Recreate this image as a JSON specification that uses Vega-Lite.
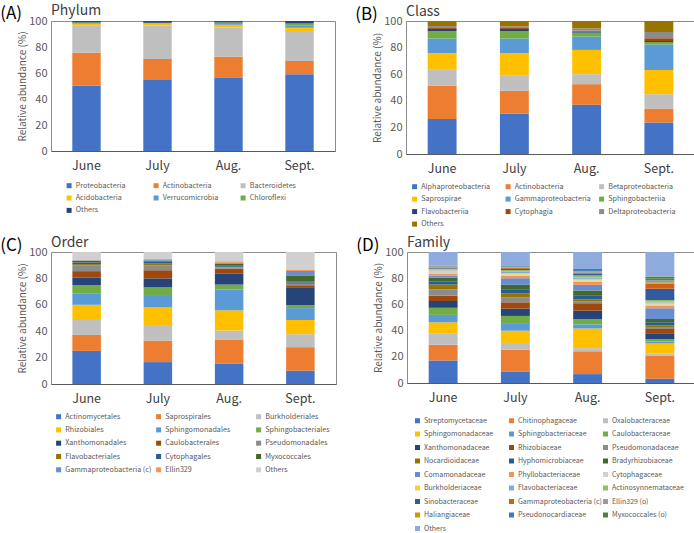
{
  "$schema": "https://vega.github.io/schema/vega-lite/v6.json",
  "padding": {"left": 0, "top": 3, "right": 0, "bottom": 0},
  "datasets": {
    "A": [
      {"m":"June","t":"Proteobacteria","v":50.3},{"m":"June","t":"Actinobacteria","v":25.3},{"m":"June","t":"Bacteroidetes","v":20.8},{"m":"June","t":"Acidobacteria","v":1.5},{"m":"June","t":"Verrucomicrobia","v":0.5},{"m":"June","t":"Chloroflexi","v":0.5},{"m":"June","t":"Others","v":1.1},
      {"m":"July","t":"Proteobacteria","v":54.6},{"m":"July","t":"Actinobacteria","v":16.2},{"m":"July","t":"Bacteroidetes","v":25.6},{"m":"July","t":"Acidobacteria","v":1.6},{"m":"July","t":"Verrucomicrobia","v":0.4},{"m":"July","t":"Chloroflexi","v":0.2},{"m":"July","t":"Others","v":1.4},
      {"m":"Aug.","t":"Proteobacteria","v":56.2},{"m":"Aug.","t":"Actinobacteria","v":16.4},{"m":"Aug.","t":"Bacteroidetes","v":22.5},{"m":"Aug.","t":"Acidobacteria","v":2.0},{"m":"Aug.","t":"Verrucomicrobia","v":0.6},{"m":"Aug.","t":"Chloroflexi","v":1.2},{"m":"Aug.","t":"Others","v":1.1},
      {"m":"Sept.","t":"Proteobacteria","v":59.0},{"m":"Sept.","t":"Actinobacteria","v":10.2},{"m":"Sept.","t":"Bacteroidetes","v":23.1},{"m":"Sept.","t":"Acidobacteria","v":2.6},{"m":"Sept.","t":"Verrucomicrobia","v":1.4},{"m":"Sept.","t":"Chloroflexi","v":1.7},{"m":"Sept.","t":"Others","v":2.0}
    ],
    "B": [
      {"m":"June","t":"Alphaproteobacteria","v":26.3},{"m":"June","t":"Actinobacteria","v":25.0},{"m":"June","t":"Betaproteobacteria","v":12.5},{"m":"June","t":"Saprospirae","v":12.0},{"m":"June","t":"Gammaproteobacteria","v":11.0},{"m":"June","t":"Sphingobacteriia","v":5.7},{"m":"June","t":"Flavobacteriia","v":1.5},{"m":"June","t":"Cytophagia","v":0.7},{"m":"June","t":"Deltaproteobacteria","v":1.5},{"m":"June","t":"Others","v":3.8},
      {"m":"July","t":"Alphaproteobacteria","v":30.5},{"m":"July","t":"Actinobacteria","v":17.0},{"m":"July","t":"Betaproteobacteria","v":11.3},{"m":"July","t":"Saprospirae","v":17.0},{"m":"July","t":"Gammaproteobacteria","v":11.0},{"m":"July","t":"Sphingobacteriia","v":5.7},{"m":"July","t":"Flavobacteriia","v":1.5},{"m":"July","t":"Cytophagia","v":0.7},{"m":"July","t":"Deltaproteobacteria","v":1.3},{"m":"July","t":"Others","v":4.0},
      {"m":"Aug.","t":"Alphaproteobacteria","v":37.0},{"m":"Aug.","t":"Actinobacteria","v":15.5},{"m":"Aug.","t":"Betaproteobacteria","v":7.5},{"m":"Aug.","t":"Saprospirae","v":18.25},{"m":"Aug.","t":"Gammaproteobacteria","v":10.0},{"m":"Aug.","t":"Sphingobacteriia","v":3.0},{"m":"Aug.","t":"Flavobacteriia","v":0.8},{"m":"Aug.","t":"Cytophagia","v":0.7},{"m":"Aug.","t":"Deltaproteobacteria","v":1.75},{"m":"Aug.","t":"Others","v":5.5},
      {"m":"Sept.","t":"Alphaproteobacteria","v":23.75},{"m":"Sept.","t":"Actinobacteria","v":10.5},{"m":"Sept.","t":"Betaproteobacteria","v":10.75},{"m":"Sept.","t":"Saprospirae","v":18.25},{"m":"Sept.","t":"Gammaproteobacteria","v":19.0},{"m":"Sept.","t":"Sphingobacteriia","v":2.0},{"m":"Sept.","t":"Flavobacteriia","v":0.75},{"m":"Sept.","t":"Cytophagia","v":2.0},{"m":"Sept.","t":"Deltaproteobacteria","v":4.75},{"m":"Sept.","t":"Others","v":8.25}
    ],
    "C": [
      {"m":"June","t":"Actinomycetales","v":25.1},{"m":"June","t":"Saprospirales","v":12.1},{"m":"June","t":"Burkholderiales","v":11.3},{"m":"June","t":"Rhizobiales","v":11.5},{"m":"June","t":"Sphingomonadales","v":8.75},{"m":"June","t":"Sphingobacteriales","v":6.25},{"m":"June","t":"Xanthomonadales","v":5.5},{"m":"June","t":"Caulobacterales","v":5.0},{"m":"June","t":"Pseudomonadales","v":4.5},{"m":"June","t":"Flavobacteriales","v":0.8},{"m":"June","t":"Cytophagales","v":1.2},{"m":"June","t":"Myxococcales","v":1.2},{"m":"June","t":"Gammaproteobacteria (c)","v":0.5},{"m":"June","t":"Ellin329","v":0.3},{"m":"June","t":"Others","v":6.0},
      {"m":"July","t":"Actinomycetales","v":16.6},{"m":"July","t":"Saprospirales","v":16.3},{"m":"July","t":"Burkholderiales","v":11.1},{"m":"July","t":"Rhizobiales","v":14.0},{"m":"July","t":"Sphingomonadales","v":9.4},{"m":"July","t":"Sphingobacteriales","v":5.8},{"m":"July","t":"Xanthomonadales","v":6.8},{"m":"July","t":"Caulobacterales","v":6.2},{"m":"July","t":"Pseudomonadales","v":3.8},{"m":"July","t":"Flavobacteriales","v":1.2},{"m":"July","t":"Cytophagales","v":1.5},{"m":"July","t":"Myxococcales","v":0.8},{"m":"July","t":"Gammaproteobacteria (c)","v":0.5},{"m":"July","t":"Ellin329","v":0.8},{"m":"July","t":"Others","v":5.2},
      {"m":"Aug.","t":"Actinomycetales","v":15.6},{"m":"Aug.","t":"Saprospirales","v":17.8},{"m":"Aug.","t":"Burkholderiales","v":7.1},{"m":"Aug.","t":"Rhizobiales","v":15.3},{"m":"Aug.","t":"Sphingomonadales","v":15.7},{"m":"Aug.","t":"Sphingobacteriales","v":3.8},{"m":"Aug.","t":"Xanthomonadales","v":8.2},{"m":"Aug.","t":"Caulobacterales","v":4.0},{"m":"Aug.","t":"Pseudomonadales","v":0.8},{"m":"Aug.","t":"Flavobacteriales","v":0.5},{"m":"Aug.","t":"Cytophagales","v":1.2},{"m":"Aug.","t":"Myxococcales","v":1.2},{"m":"Aug.","t":"Gammaproteobacteria (c)","v":0.6},{"m":"Aug.","t":"Ellin329","v":1.2},{"m":"Aug.","t":"Others","v":7.0},
      {"m":"Sept.","t":"Actinomycetales","v":10.1},{"m":"Sept.","t":"Saprospirales","v":17.8},{"m":"Sept.","t":"Burkholderiales","v":9.8},{"m":"Sept.","t":"Rhizobiales","v":10.8},{"m":"Sept.","t":"Sphingomonadales","v":9.0},{"m":"Sept.","t":"Sphingobacteriales","v":2.3},{"m":"Sept.","t":"Xanthomonadales","v":13.0},{"m":"Sept.","t":"Caulobacterales","v":2.0},{"m":"Sept.","t":"Pseudomonadales","v":1.0},{"m":"Sept.","t":"Flavobacteriales","v":1.0},{"m":"Sept.","t":"Cytophagales","v":1.0},{"m":"Sept.","t":"Myxococcales","v":4.5},{"m":"Sept.","t":"Gammaproteobacteria (c)","v":3.3},{"m":"Sept.","t":"Ellin329","v":1.2},{"m":"Sept.","t":"Others","v":13.2}
    ],
    "D": [
      {"m":"June","t":"Streptomycetaceae","v":17.2},{"m":"June","t":"Chitinophagaceae","v":12.0},{"m":"June","t":"Oxalobacteraceae","v":8.8},{"m":"June","t":"Sphingomonadaceae","v":8.3},{"m":"June","t":"Sphingobacteriaceae","v":5.7},{"m":"June","t":"Caulobacteraceae","v":5.4},{"m":"June","t":"Xanthomonadaceae","v":5.2},{"m":"June","t":"Rhizobiaceae","v":4.1},{"m":"June","t":"Pseudomonadaceae","v":4.8},{"m":"June","t":"Nocardioidaceae","v":3.7},{"m":"June","t":"Hyphomicrobiaceae","v":2.4},{"m":"June","t":"Bradyrhizobiaceae","v":2.9},{"m":"June","t":"Comamonadaceae","v":1.6},{"m":"June","t":"Phyllobacteriaceae","v":1.5},{"m":"June","t":"Cytophagaceae","v":1.2},{"m":"June","t":"Burkholderiaceae","v":1.1},{"m":"June","t":"Flavobacteriaceae","v":0.8},{"m":"June","t":"Actinosynnemataceae","v":0.5},{"m":"June","t":"Sinobacteraceae","v":0.5},{"m":"June","t":"Gammaproteobacteria (c)","v":0.5},{"m":"June","t":"Ellin329 (o)","v":0.3},{"m":"June","t":"Haliangiaceae","v":0.5},{"m":"June","t":"Pseudonocardiaceae","v":0.3},{"m":"June","t":"Myxococcales (o)","v":0.2},{"m":"June","t":"Others","v":10.5},
      {"m":"July","t":"Streptomycetaceae","v":8.5},{"m":"July","t":"Chitinophagaceae","v":17.0},{"m":"July","t":"Oxalobacteraceae","v":5.1},{"m":"July","t":"Sphingomonadaceae","v":9.3},{"m":"July","t":"Sphingobacteriaceae","v":5.8},{"m":"July","t":"Caulobacteraceae","v":5.5},{"m":"July","t":"Xanthomonadaceae","v":5.6},{"m":"July","t":"Rhizobiaceae","v":4.8},{"m":"July","t":"Pseudomonadaceae","v":3.6},{"m":"July","t":"Nocardioidaceae","v":3.3},{"m":"July","t":"Hyphomicrobiaceae","v":3.1},{"m":"July","t":"Bradyrhizobiaceae","v":3.3},{"m":"July","t":"Comamonadaceae","v":5.1},{"m":"July","t":"Phyllobacteriaceae","v":1.8},{"m":"July","t":"Cytophagaceae","v":1.0},{"m":"July","t":"Burkholderiaceae","v":1.0},{"m":"July","t":"Flavobacteriaceae","v":1.2},{"m":"July","t":"Actinosynnemataceae","v":1.2},{"m":"July","t":"Sinobacteraceae","v":0.8},{"m":"July","t":"Gammaproteobacteria (c)","v":0.7},{"m":"July","t":"Ellin329 (o)","v":0.5},{"m":"July","t":"Haliangiaceae","v":0.5},{"m":"July","t":"Pseudonocardiaceae","v":0.5},{"m":"July","t":"Myxococcales (o)","v":0.5},{"m":"July","t":"Others","v":10.3},
      {"m":"Aug.","t":"Streptomycetaceae","v":6.8},{"m":"Aug.","t":"Chitinophagaceae","v":17.4},{"m":"Aug.","t":"Oxalobacteraceae","v":2.4},{"m":"Aug.","t":"Sphingomonadaceae","v":15.0},{"m":"Aug.","t":"Sphingobacteriaceae","v":3.2},{"m":"Aug.","t":"Caulobacteraceae","v":4.0},{"m":"Aug.","t":"Xanthomonadaceae","v":6.4},{"m":"Aug.","t":"Rhizobiaceae","v":5.7},{"m":"Aug.","t":"Pseudomonadaceae","v":1.2},{"m":"Aug.","t":"Nocardioidaceae","v":1.8},{"m":"Aug.","t":"Hyphomicrobiaceae","v":3.1},{"m":"Aug.","t":"Bradyrhizobiaceae","v":3.6},{"m":"Aug.","t":"Comamonadaceae","v":4.3},{"m":"Aug.","t":"Phyllobacteriaceae","v":2.3},{"m":"Aug.","t":"Cytophagaceae","v":1.1},{"m":"Aug.","t":"Burkholderiaceae","v":1.2},{"m":"Aug.","t":"Flavobacteriaceae","v":1.1},{"m":"Aug.","t":"Actinosynnemataceae","v":1.5},{"m":"Aug.","t":"Sinobacteraceae","v":1.3},{"m":"Aug.","t":"Gammaproteobacteria (c)","v":0.7},{"m":"Aug.","t":"Ellin329 (o)","v":0.6},{"m":"Aug.","t":"Haliangiaceae","v":0.5},{"m":"Aug.","t":"Pseudonocardiaceae","v":1.0},{"m":"Aug.","t":"Myxococcales (o)","v":0.8},{"m":"Aug.","t":"Others","v":13.0},
      {"m":"Sept.","t":"Streptomycetaceae","v":3.2},{"m":"Sept.","t":"Chitinophagaceae","v":17.7},{"m":"Sept.","t":"Oxalobacteraceae","v":1.6},{"m":"Sept.","t":"Sphingomonadaceae","v":7.6},{"m":"Sept.","t":"Sphingobacteriaceae","v":1.5},{"m":"Sept.","t":"Caulobacteraceae","v":2.0},{"m":"Sept.","t":"Xanthomonadaceae","v":4.3},{"m":"Sept.","t":"Rhizobiaceae","v":3.3},{"m":"Sept.","t":"Pseudomonadaceae","v":1.5},{"m":"Sept.","t":"Nocardioidaceae","v":1.3},{"m":"Sept.","t":"Hyphomicrobiaceae","v":2.3},{"m":"Sept.","t":"Bradyrhizobiaceae","v":2.5},{"m":"Sept.","t":"Comamonadaceae","v":8.2},{"m":"Sept.","t":"Phyllobacteriaceae","v":1.8},{"m":"Sept.","t":"Cytophagaceae","v":1.3},{"m":"Sept.","t":"Burkholderiaceae","v":1.3},{"m":"Sept.","t":"Flavobacteriaceae","v":0.7},{"m":"Sept.","t":"Actinosynnemataceae","v":1.3},{"m":"Sept.","t":"Sinobacteraceae","v":8.5},{"m":"Sept.","t":"Gammaproteobacteria (c)","v":3.8},{"m":"Sept.","t":"Ellin329 (o)","v":1.3},{"m":"Sept.","t":"Haliangiaceae","v":1.3},{"m":"Sept.","t":"Pseudonocardiaceae","v":1.2},{"m":"Sept.","t":"Myxococcales (o)","v":1.8},{"m":"Sept.","t":"Others","v":18.7}
    ]
  },
  "config": {
    "font": "Noto Sans CJK JP",
    "view": {"stroke": "#8c8c8c", "strokeWidth": 1},
    "bar": {"strokeWidth": 0},
    "concat": {"spacing": 0},
    "axisX": {"ticks": false, "grid": false, "domainColor": "#595959", "labelFontSize": 12.5, "labelColor": "#404040", "labelPadding": 8, "labelAngle": 0, "title": null},
    "axisY": {"ticks": false, "grid": false, "domain": false, "labelFontSize": 11, "labelColor": "#595959", "labelPadding": 4, "titleFontSize": 10, "titleColor": "#595959", "titleFontWeight": "normal", "titlePadding": 1},
    "legend": {"orient": "none", "columns": 3, "direction": "horizontal", "title": null, "symbolType": "square", "symbolSize": 25, "symbolStrokeWidth": 0, "labelFontSize": 7.2, "labelColor": "#595959", "labelOffset": 3, "gridAlign": "all", "padding": 0},
    "title": {"fontWeight": "normal"}
  },
  "spacing": 7,
  "resolve": {"scale": {"color": "independent"}},
  "vconcat": [
    {
      "spacing": 19,
      "resolve": {"scale": {"color": "independent"}},
      "hconcat": [
        {
          "title": {"text": "(A)", "anchor": "start", "frame": "bounds", "fontSize": 17, "color": "#000000", "offset": 0, "dy": 19, "dx": -17},
          "vconcat": [{
          "width": 284, "height": 130,
          "title": {"text": "Phylum", "anchor": "start", "frame": "group", "fontSize": 14, "color": "#404040", "offset": -3},
          "data": {"name": "A"},
          "transform": [{"calculate": "indexof(['Proteobacteria','Actinobacteria','Bacteroidetes','Acidobacteria','Verrucomicrobia','Chloroflexi','Others'], datum.t)", "as": "k"}],
          "mark": "bar",
          "encoding": {
            "x": {"field": "m", "type": "nominal", "sort": ["June","July","Aug.","Sept."], "scale": {"paddingInner": 0.6, "paddingOuter": 0.3}},
            "y": {"field": "v", "type": "quantitative", "stack": "zero", "scale": {"domain": [0, 100]}, "axis": {"title": "Relative abundance (%)", "values": [0,20,40,60,80,100]}},
            "color": {"field": "t", "type": "nominal",
              "scale": {"domain": ["Proteobacteria","Actinobacteria","Bacteroidetes","Acidobacteria","Verrucomicrobia","Chloroflexi","Others"],
                        "range": ["#4472C4","#ED7D31","#BFBFBF","#FFC000","#5B9BD5","#70AD47","#264478"]},
              "legend": {"legendX": 14.5, "legendY": 161, "columnPadding": 21, "rowPadding": 4.4, "encode": {"labels": {"update": {"fontStyle": {"signal": "datum.label === 'Others' ? 'normal' : 'italic'"}}}}}},
            "order": {"field": "k", "type": "quantitative"}
          }
          }]
        },
        {
          "title": {"text": "(B)", "anchor": "start", "frame": "bounds", "fontSize": 17, "color": "#000000", "offset": 0, "dy": 19, "dx": -17},
          "vconcat": [{
          "width": 289, "height": 133,
          "title": {"text": "Class", "anchor": "start", "frame": "group", "fontSize": 14, "color": "#404040", "offset": -4},
          "data": {"name": "B"},
          "transform": [{"calculate": "indexof(['Alphaproteobacteria','Actinobacteria','Betaproteobacteria','Saprospirae','Gammaproteobacteria','Sphingobacteriia','Flavobacteriia','Cytophagia','Deltaproteobacteria','Others'], datum.t)", "as": "k"}],
          "mark": "bar",
          "encoding": {
            "x": {"field": "m", "type": "nominal", "sort": ["June","July","Aug.","Sept."], "scale": {"paddingInner": 0.6, "paddingOuter": 0.3}},
            "y": {"field": "v", "type": "quantitative", "stack": "zero", "scale": {"domain": [0, 100]}, "axis": {"title": "Relative abundance (%)", "values": [0,20,40,60,80,100]}},
            "color": {"field": "t", "type": "nominal",
              "scale": {"domain": ["Alphaproteobacteria","Actinobacteria","Betaproteobacteria","Saprospirae","Gammaproteobacteria","Sphingobacteriia","Flavobacteriia","Cytophagia","Deltaproteobacteria","Others"],
                        "range": ["#4472C4","#ED7D31","#BFBFBF","#FFC000","#5B9BD5","#70AD47","#264478","#9E480E","#8C8C8C","#997300"]},
              "legend": {"legendX": 5, "legendY": 162, "columnPadding": 6.5, "rowPadding": 4.5, "encode": {"labels": {"update": {"fontStyle": {"signal": "datum.label === 'Others' ? 'normal' : 'italic'"}}}}}},
            "order": {"field": "k", "type": "quantitative"}
          }
          }]
        }
      ]
    },
    {
      "spacing": 19,
      "resolve": {"scale": {"color": "independent"}},
      "hconcat": [
        {
          "title": {"text": "(C)", "anchor": "start", "frame": "bounds", "fontSize": 17, "color": "#000000", "offset": 0, "dy": 19, "dx": -17},
          "vconcat": [{
          "width": 285, "height": 132,
          "title": {"text": "Order", "anchor": "start", "frame": "group", "fontSize": 14, "color": "#404040", "offset": -4},
          "data": {"name": "C"},
          "transform": [{"calculate": "indexof(['Actinomycetales','Saprospirales','Burkholderiales','Rhizobiales','Sphingomonadales','Sphingobacteriales','Xanthomonadales','Caulobacterales','Pseudomonadales','Flavobacteriales','Cytophagales','Myxococcales','Gammaproteobacteria (c)','Ellin329','Others'], datum.t)", "as": "k"}],
          "mark": "bar",
          "encoding": {
            "x": {"field": "m", "type": "nominal", "sort": ["June","July","Aug.","Sept."], "scale": {"paddingInner": 0.6, "paddingOuter": 0.3}},
            "y": {"field": "v", "type": "quantitative", "stack": "zero", "scale": {"domain": [0, 100]}, "axis": {"title": "Relative abundance (%)", "values": [0,20,40,60,80,100]}},
            "color": {"field": "t", "type": "nominal",
              "scale": {"domain": ["Actinomycetales","Saprospirales","Burkholderiales","Rhizobiales","Sphingomonadales","Sphingobacteriales","Xanthomonadales","Caulobacterales","Pseudomonadales","Flavobacteriales","Cytophagales","Myxococcales","Gammaproteobacteria (c)","Ellin329","Others"],
                        "range": ["#4472C4","#ED7D31","#BFBFBF","#FFC000","#5B9BD5","#70AD47","#264478","#9E480E","#8C8C8C","#997300","#255E91","#43682B","#698ED0","#F1975A","#D0D0D0"]},
              "legend": {"legendX": 4, "legendY": 161, "columnPadding": 3, "rowPadding": 5.3, "encode": {"labels": {"update": {"fontStyle": {"signal": "datum.label === 'Others' ? 'normal' : 'italic'"}}}}}},
            "order": {"field": "k", "type": "quantitative"}
          }
          }]
        },
        {
          "title": {"text": "(D)", "anchor": "start", "frame": "bounds", "fontSize": 17, "color": "#000000", "offset": 0, "dy": 19, "dx": -17},
          "vconcat": [{
          "width": 289, "height": 131,
          "title": {"text": "Family", "anchor": "start", "frame": "group", "fontSize": 14, "color": "#404040", "offset": -4},
          "data": {"name": "D"},
          "transform": [{"calculate": "indexof(['Streptomycetaceae','Chitinophagaceae','Oxalobacteraceae','Sphingomonadaceae','Sphingobacteriaceae','Caulobacteraceae','Xanthomonadaceae','Rhizobiaceae','Pseudomonadaceae','Nocardioidaceae','Hyphomicrobiaceae','Bradyrhizobiaceae','Comamonadaceae','Phyllobacteriaceae','Cytophagaceae','Burkholderiaceae','Flavobacteriaceae','Actinosynnemataceae','Sinobacteraceae','Gammaproteobacteria (c)','Ellin329 (o)','Haliangiaceae','Pseudonocardiaceae','Myxococcales (o)','Others'], datum.t)", "as": "k"}],
          "mark": "bar",
          "encoding": {
            "x": {"field": "m", "type": "nominal", "sort": ["June","July","Aug.","Sept."], "scale": {"paddingInner": 0.6, "paddingOuter": 0.3}},
            "y": {"field": "v", "type": "quantitative", "stack": "zero", "scale": {"domain": [0, 100]}, "axis": {"title": "Relative abundance (%)", "values": [0,20,40,60,80,100]}},
            "color": {"field": "t", "type": "nominal",
              "scale": {"domain": ["Streptomycetaceae","Chitinophagaceae","Oxalobacteraceae","Sphingomonadaceae","Sphingobacteriaceae","Caulobacteraceae","Xanthomonadaceae","Rhizobiaceae","Pseudomonadaceae","Nocardioidaceae","Hyphomicrobiaceae","Bradyrhizobiaceae","Comamonadaceae","Phyllobacteriaceae","Cytophagaceae","Burkholderiaceae","Flavobacteriaceae","Actinosynnemataceae","Sinobacteraceae","Gammaproteobacteria (c)","Ellin329 (o)","Haliangiaceae","Pseudonocardiaceae","Myxococcales (o)","Others"],
                        "range": ["#4472C4","#ED7D31","#BFBFBF","#FFC000","#5B9BD5","#70AD47","#264478","#9E480E","#8C8C8C","#997300","#255E91","#43682B","#698ED0","#F1975A","#D0D0D0","#FFCD33","#7CAFDD","#8CC168","#335AA1","#D26012","#9A9A9A","#CC9A00","#3A7BC0","#548235","#8FAADC"]},
              "legend": {"legendX": 7, "legendY": 165, "columnPadding": 0, "rowPadding": 5.5, "labelFontSize": 7, "encode": {"labels": {"update": {"fontStyle": {"signal": "datum.label === 'Others' ? 'normal' : 'italic'"}}}}}},
            "order": {"field": "k", "type": "quantitative"}
          }
          }]
        }
      ]
    }
  ]
}
